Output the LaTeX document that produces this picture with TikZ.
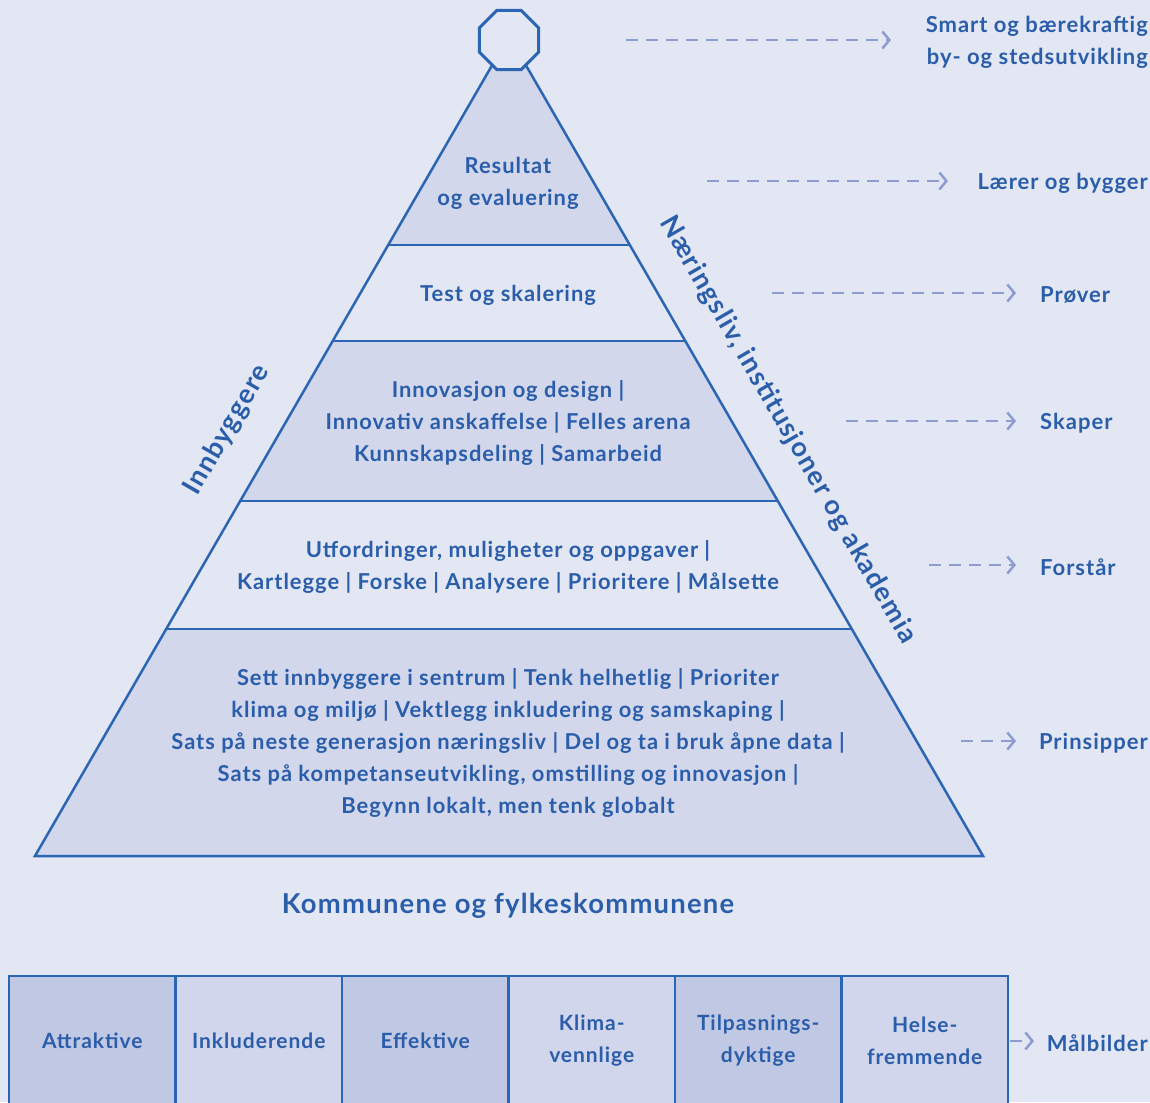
\documentclass[tikz,border=0pt]{standalone}
\usepackage{fontspec}
\setmainfont{Lato}[LetterSpace=4.5]
\usetikzlibrary{arrows.meta,shapes.geometric,positioning}
\definecolor{bgc}{HTML}{E3E7F4}
\definecolor{band}{HTML}{D2D7EC}
\definecolor{boxdark}{HTML}{C0C8E3}
\definecolor{boxlight}{HTML}{D1D6EC}
\definecolor{linec}{HTML}{2B66B5}
\definecolor{textc}{HTML}{2A5DAA}
\definecolor{dashc}{HTML}{8D9DD2}
\begin{document}
\begin{tikzpicture}[x=1pt,y=-1pt,
  pyr/.style={draw=linec, line width=2.5pt, line join=miter},
  txt/.style={text=textc, font=\fontsize{21.9}{32}\selectfont\bfseries, align=center, inner sep=0pt},
  sidelbl/.style={text=textc, font=\fontsize{27}{30}\selectfont\bfseries, inner sep=0pt},
  rlbl/.style={text=textc, font=\fontsize{22}{32}\selectfont\bfseries, inner sep=0pt},
  darr/.style={draw=dashc, line width=2.5pt, dash pattern=on 12pt off 8pt,
     -{Straight Barb[length=7pt,width=17pt,line width=2.5pt]}},
  goalbox/.style={draw=linec, line width=2.5pt, minimum width=166.5pt, minimum height=130pt,
     text=textc, font=\fontsize{21}{32}\selectfont\bfseries, align=center, inner sep=0pt, outer sep=0pt, anchor=west},
]
\fill[bgc] (0,0) rectangle (1150,1102);
\clip (0,0) rectangle (1150,1102);
% bands
\fill[band] (509,36) -- (629.8,245) -- (388.2,245) -- cycle;
\fill[band] (332.7,341) -- (685.3,341) -- (777.8,501) -- (240.2,501) -- cycle;
\fill[band] (166.2,629) -- (851.8,629) -- (983,856) -- (35,856) -- cycle;
\draw[pyr] (509,36) -- (983,856) -- (35,856) -- cycle;
\draw[pyr] (388.2,245) -- (629.8,245);
\draw[pyr] (332.7,341) -- (685.3,341);
\draw[pyr] (240.2,501) -- (777.8,501);
\draw[pyr] (166.2,629) -- (851.8,629);
\node[regular polygon, regular polygon sides=8, minimum size=64pt, inner sep=0pt, draw=linec, line width=3pt, fill=bgc] (top) at (509,40) {};
% pyramid texts
\node[txt] (t1) at (508,183) {Resultat\\og evaluering};
\node[txt] (t2) at (508,295) {Test og skalering};
\node[txt] (t3) at (508,423) {Innovasjon og design |\\Innovativ anskaffelse | Felles arena\\Kunnskapsdeling | Samarbeid};
\node[txt] (t4) at (508,567) {Utfordringer, muligheter og oppgaver |\\Kartlegge | Forske | Analysere | Prioritere | Målsette};
\node[txt] (t5) at (508,743) {Sett innbyggere i sentrum | Tenk helhetlig | Prioriter\\klima og miljø | Vektlegg inkludering og samskaping |\\Sats på neste generasjon næringsliv | Del og ta i bruk åpne data |\\Sats på kompetanseutvikling, omstilling og innovasjon |\\Begynn lokalt, men tenk globalt};
% side labels
\node[sidelbl, rotate=60] (inn) at (227,430) {Innbyggere};
\node[sidelbl, rotate=-60] (nar) at (788,430) {Næringsliv, institusjoner og akademia};
\node[text=textc, font=\fontsize{27.4}{30}\selectfont\bfseries, inner sep=0pt] (kom) at (508,906) {Kommunene og fylkeskommunene};
% right labels
\node[rlbl, anchor=east, align=right] (l1) at (1148,42) {Smart og bærekraftig\\by- og stedsutvikling};
\node[rlbl, anchor=east] (l2) at (1148,183) {Lærer og bygger};
\node[rlbl, anchor=west] (l3) at (1040,295) {Prøver};
\node[rlbl, anchor=west] (l4) at (1040,423) {Skaper};
\node[rlbl, anchor=west] (l5) at (1040,567) {Forstår};
\node[rlbl, anchor=east] (l6) at (1148,743) {Prinsipper};
\node[rlbl, anchor=east] (l7) at (1148,1043) {Målbilder};
% arrows
\coordinate (a1s) at (626,40);  \coordinate (a1e) at (891,40);
\coordinate (a2s) at (707,181); \coordinate (a2e) at (948,181);
\coordinate (a3s) at (772,293); \coordinate (a3e) at (1016,293);
\coordinate (a4s) at (846,421); \coordinate (a4e) at (1016,421);
\coordinate (a5s) at (929,565); \coordinate (a5e) at (1016,565);
\coordinate (a6s) at (961,741); \coordinate (a6e) at (1016,741);
\coordinate (a7s) at (1010,1041); \coordinate (a7e) at (1034,1041);
\foreach \i in {1,...,7} {\draw[darr] (a\i s) -- (a\i e);}
% goal boxes
\node[goalbox, fill=boxdark] (g1) at (9,1041) {Attraktive};
\node[goalbox, fill=boxlight] (g2) at (g1.east) {Inkluderende};
\node[goalbox, fill=boxdark] (g3) at (g2.east) {Effektive};
\node[goalbox, fill=boxlight] (g4) at (g3.east) {Klima-\\vennlige};
\node[goalbox, fill=boxdark] (g5) at (g4.east) {Tilpasnings-\\dyktige};
\node[goalbox, fill=boxlight] (g6) at (g5.east) {Helse-\\fremmende};
\end{tikzpicture}
\end{document}
